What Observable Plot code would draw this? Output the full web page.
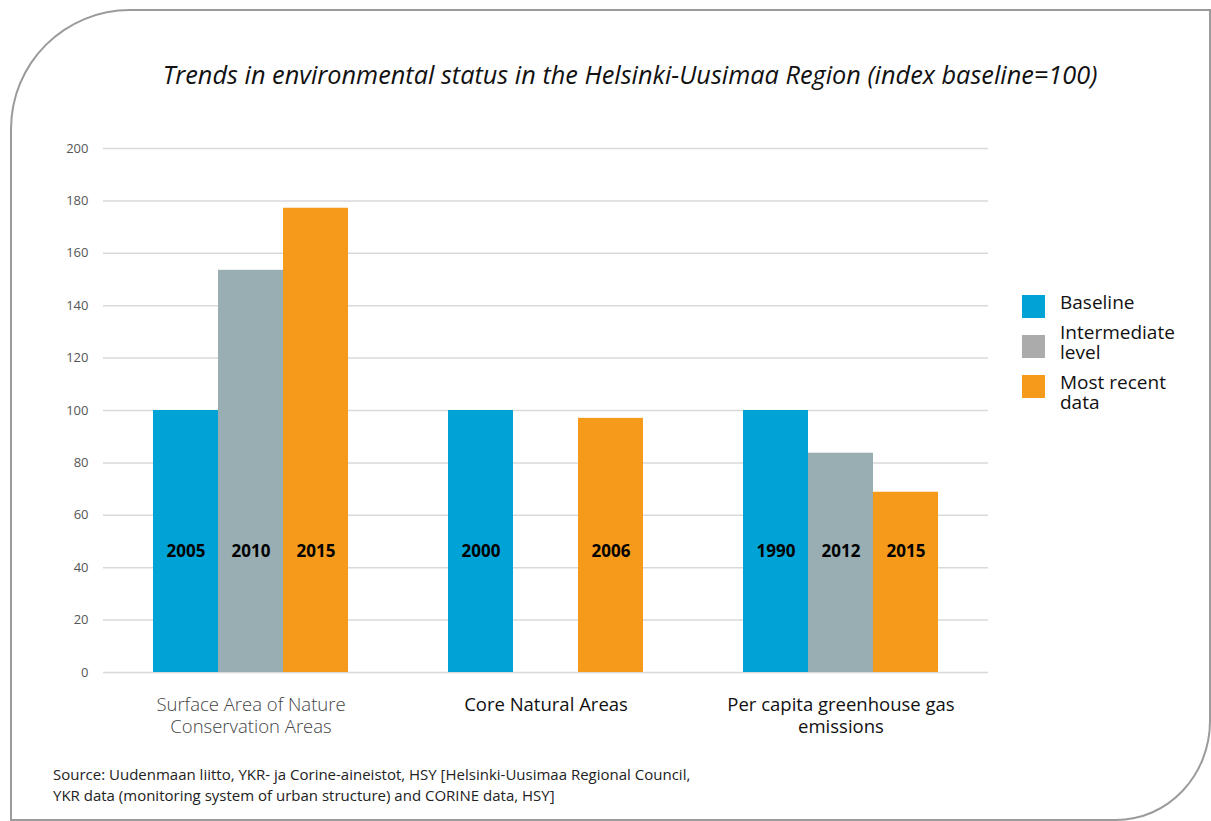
<!DOCTYPE html>
<html>
<head>
<meta charset="utf-8">
<script src="https://cdn.jsdelivr.net/npm/d3@7"></script>
<script src="https://cdn.jsdelivr.net/npm/@observablehq/plot@0.6"></script>
<style>
  html, body { margin: 0; padding: 0; background: #fff; overflow: hidden; }
  #root { position: relative; width: 1211px; height: 821px; font-family: "Open Sans", sans-serif; }
  #frame { position: absolute; left: 10px; top: 9px; width: 1201px; height: 812px; box-sizing: border-box;
    border: 2.5px solid #9b9b9b; border-top-left-radius: 120px 120px; border-bottom-right-radius: 95px 100px; }
  #title { position: absolute; left: 0; top: 57px; width: 1260px; text-align: center; font-style: italic;
    font-size: 25.3px; line-height: 34px; color: #111; font-family: "Open Sans", sans-serif; }
  #chart { position: absolute; left: 0; top: 130px; }
  #legend { position: absolute; left: 0; top: 0; font-size: 19px; color: #111; }
  .sw { position: absolute; left: 1022px; width: 23px; height: 23px; }
  .lab { position: absolute; left: 1060px; line-height: 20px; white-space: nowrap; }
  #source { position: absolute; left: 53px; top: 764px; font-size: 15px; line-height: 21px; color: #222; white-space: nowrap; }
</style>
</head>
<body>
<div id="root">
  <div id="frame"></div>
  <div id="title"></div>
  <div id="chart"></div>
  <div id="legend"></div>
  <div id="source"></div>
</div>
<script>
const titleText = "Trends in environmental status in the Helsinki-Uusimaa Region (index baseline=100)";
const sourceLines = [
  "Source: Uudenmaan liitto, YKR- ja Corine-aineistot, HSY [Helsinki-Uusimaa Regional Council,",
  "YKR data (monitoring system of urban structure) and CORINE data, HSY]"
];
const categories = ["Surface Area of Nature Conservation Areas", "Core Natural Areas", "Per capita greenhouse gas emissions"];
const categoryLabels = ["Surface Area of Nature\nConservation Areas", "Core Natural Areas", "Per capita greenhouse gas\nemissions"];
const levels = ["Baseline", "Intermediate level", "Most recent data"];
const legendLabels = ["Baseline", "Intermediate\nlevel", "Most recent\ndata"];
const baselineValues = [100, 100, 100];
const intermediateValues = [153.5, null, 83.7];
const recentValues = [177.2, 97, 68.8];
const baselineYears = ["2005", "2000", "1990"];
const intermediateYears = ["2010", null, "2012"];
const recentYears = ["2015", "2006", "2015"];
const yTicks = [0, 20, 40, 60, 80, 100, 120, 140, 160, 180, 200];
const barColors = ["#00a3d5", "#98aeb3", "#f59a1a"];
const legendColors = ["#00a3d5", "#ababab", "#f59a1a"];

const series = [
  [baselineValues, baselineYears],
  [intermediateValues, intermediateYears],
  [recentValues, recentYears]
];
const rows = [];
categories.forEach((c, i) => {
  series.forEach(([vals, years], j) => {
    if (vals[i] != null) rows.push({category: c, level: levels[j], value: vals[i], year: years[i]});
  });
});
const labelOf = new Map(categories.map((c, i) => [c, categoryLabels[i]]));

document.getElementById("title").textContent = titleText;
document.getElementById("source").innerHTML = sourceLines.map(s => `<div>${s}</div>`).join("");
// legend layout (pixel positions are styling only)
const swatchTops = [295, 335, 375];
const labelTops = [292, 322, 372];
document.getElementById("legend").innerHTML = levels.map((l, i) =>
  `<div class="sw" style="top:${swatchTops[i]}px;background:${legendColors[i]}"></div>` +
  `<div class="lab" style="top:${labelTops[i]}px">${legendLabels[i].replace("\n", "<br>")}</div>`
).join("");

const labelOpts = {fx: d => d, text: d => labelOf.get(d), frameAnchor: "bottom", lineAnchor: "top",
  dy: 24, fontSize: 18.5, lineHeight: 1.14};

const chart = Plot.plot({
  width: 1000,
  height: 615,
  marginLeft: 102,
  marginRight: 12,
  marginTop: 18,
  marginBottom: 73,
  style: {fontFamily: "Open Sans, sans-serif", background: "transparent"},
  fx: {domain: categories, padding: 0, label: null, axis: null},
  x: {domain: levels, paddingInner: 0, paddingOuter: 0.745, axis: null},
  y: {domain: [0, 200], label: null, axis: null},
  color: {domain: levels, range: barColors},
  marks: [
    Plot.gridY(yTicks, {stroke: "#d9d9d9", strokeOpacity: 1, strokeWidth: 1.5}),
    Plot.axisY(yTicks, {tickSize: 0, tickPadding: 15, fontSize: 13, fill: "#555", label: null}),
    Plot.barY(rows, {fx: "category", x: "level", y: "value", fill: "level"}),
    Plot.text(rows, {fx: "category", x: "level", y: () => 46, text: "year", fontSize: 17, fontWeight: "bold", fill: "#000"}),
    Plot.text([categories[0]], {...labelOpts, fill: "#444", fontWeight: 300}),
    Plot.text(categories.slice(1), {...labelOpts, fill: "#111"})
  ]
});
document.getElementById("chart").appendChild(chart);
</script>
</body>
</html>
